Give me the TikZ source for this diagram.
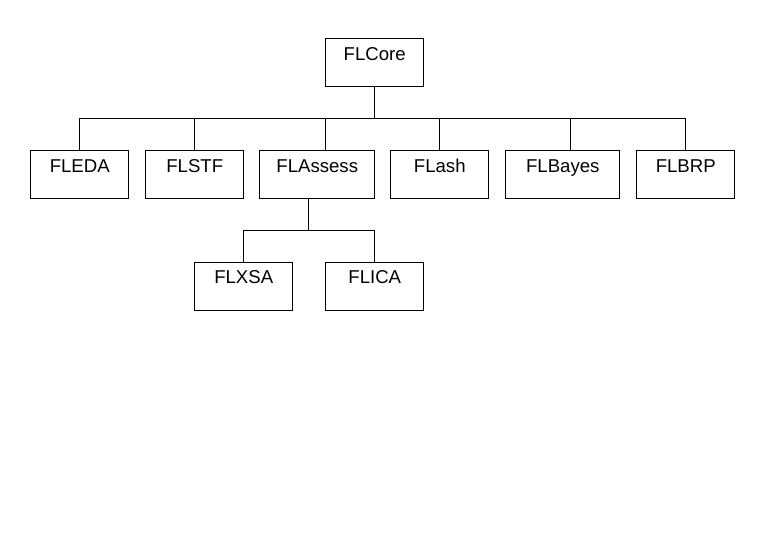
\documentclass[tikz,border=0pt]{standalone}
\usepackage{fontspec}
\setmainfont{Liberation Sans}
\usetikzlibrary{calc}
\begin{document}
\begin{tikzpicture}[x=1pt,y=-1pt,
  box/.style={draw,line width=0.9pt,rectangle,inner sep=0pt,minimum height=48pt,
    text height=21.5pt,text depth=26.5pt,anchor=north west,
    font=\fontsize{18.6pt}{20pt}\selectfont},
  conn/.style={line width=0.9pt}]
\useasboundingbox (0,0) rectangle (772,555);
\node[box,minimum width=98pt] (core) at (325.3,38.3) {FLCore};
\node[box,minimum width=98pt] (eda) at (30.3,150.3) {FLEDA};
\node[box,minimum width=98pt] (stf) at (145.3,150.3) {FLSTF};
\node[box,minimum width=115pt] (assess) at (259.3,150.3) {FLAssess};
\node[box,minimum width=98pt] (ash) at (390.3,150.3) {FLash};
\node[box,minimum width=114pt] (bayes) at (505.3,150.3) {FLBayes};
\node[box,minimum width=98pt] (brp) at (636.3,150.3) {FLBRP};
\node[box,minimum width=98pt] (xsa) at (194.3,262) {FLXSA};
\node[box,minimum width=98pt] (ica) at (325.3,262) {FLICA};
\coordinate (bus) at (0,118.3);
\coordinate (sub) at (0,230.3);
\coordinate (assessin) at ($(assess.north west)+(66.4,0)$);
\coordinate (bayesin) at ($(bayes.north west)+(65,0)$);
\coordinate (assessout) at ($(assess.south west)+(49,0)$);
\draw[conn] (core.south) -- (core.south |- bus);
\draw[conn] (eda.north) -- (eda.north |- bus) -- (brp.north |- bus) -- (brp.north);
\draw[conn] (stf.north) -- (stf.north |- bus);
\draw[conn] (assessin) -- (assessin |- bus);
\draw[conn] (ash.north) -- (ash.north |- bus);
\draw[conn] (bayesin) -- (bayesin |- bus);
\draw[conn] (assessout) -- (assessout |- sub);
\draw[conn] (xsa.north) -- (xsa.north |- sub) -- (ica.north |- sub) -- (ica.north);
\end{tikzpicture}
\end{document}
